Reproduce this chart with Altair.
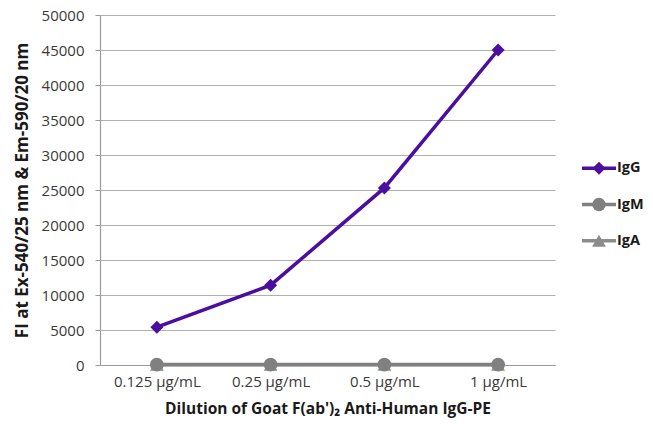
import altair as alt
import pandas as pd

dilutions = ["0.125 µg/mL", "0.25 µg/mL", "0.5 µg/mL", "1 µg/mL"]
series = ["IgG", "IgM", "IgA"]
igg = [5400, 11400, 25300, 45000]
igm = [60, 60, 60, 60]
iga = [40, 40, 40, 40]
colors = ["#4b0fa0", "#808080", "#8c8c8c"]
shapes = ["diamond", "circle", "triangle-up"]
sizes = [170, 190, 190]

rows = []
for s, vals in zip(series, [igg, igm, iga]):
    for d, v in zip(dilutions, vals):
        rows.append({"series": s, "dilution": d, "value": v})
df = pd.DataFrame(rows)
leg_df = pd.DataFrame({"series": series})

FONT = "Open Sans"

x = alt.X("dilution:N", sort=dilutions, title="Dilution of Goat F(ab')₂ Anti-Human IgG-PE",
          scale=alt.Scale(paddingInner=0, paddingOuter=0),
          axis=alt.Axis(labelAngle=0, bandPosition=0, ticks=True, tickSize=5, grid=False,
                        labelPadding=4, titlePadding=12, titleFontSize=15.5))
y = alt.Y("value:Q", title="FI at Ex-540/25 nm & Em-590/20 nm",
          scale=alt.Scale(domain=[0, 50000], nice=False),
          axis=alt.Axis(values=list(range(0, 50001, 5000)), format="d", tickSize=5,
                        labelPadding=11, titlePadding=10, titleFontSize=17))
color_scale = alt.Scale(domain=series, range=colors)
color = alt.Color("series:N", scale=color_scale, legend=None)

line_layers = []
pt_layers = []
for s in reversed(series):
    sub = alt.Chart(df).transform_filter(alt.datum.series == s)
    line_layers.append(sub.mark_line(strokeWidth=3.5).encode(x=x, y=y, color=color))
for s in reversed(series):
    sub = alt.Chart(df).transform_filter(alt.datum.series == s)
    i = series.index(s)
    pt_layers.append(sub.mark_point(filled=True, opacity=1, size=sizes[i], shape=shapes[i]).encode(
        x=x, y=y, color=color))

main = alt.layer(*line_layers, *pt_layers)

# manual legend (line + marker + label), placed right of the plot area
ly = alt.Y("series:N", sort=series, scale=alt.Scale(domain=series, range=[135, 244]),
           axis=None)
lbase = alt.Chart(leg_df)
leg_rule = lbase.mark_rule(strokeWidth=3.5).encode(
    x=alt.value(482), x2=alt.value(516), y=ly, color=color)
leg_pt = lbase.mark_point(filled=True, opacity=1).encode(
    x=alt.value(499), y=ly, color=color,
    shape=alt.Shape("series:N", scale=alt.Scale(domain=series, range=shapes), legend=None),
    size=alt.Size("series:N", scale=alt.Scale(domain=series, range=sizes), legend=None))
leg_txt = lbase.mark_text(align="left", baseline="middle", font=FONT, fontSize=14.5,
                          fontWeight="bold", color="#1a1a1a").encode(
    x=alt.value(517), y=ly, text="series:N")
legend = alt.layer(leg_rule, leg_pt, leg_txt)

chart = alt.layer(main, legend).resolve_scale(y="independent").properties(
    width=455, height=350,
    autosize=alt.AutoSizeParams(type="none"),
    padding={"left": 92, "top": 7, "right": 90, "bottom": 55},
).configure_view(stroke=None).configure_axis(
    labelFont=FONT, labelFontSize=15, labelColor="#3a3a3a",
    titleFont=FONT, titleFontWeight="bold", titleColor="#1a1a1a",
    domainColor="#9a9a9a", domainWidth=1.2, tickColor="#9a9a9a",
    gridColor="#b0b0b0", gridWidth=1.2,
)

chart.save("out.html", embed_options={"renderer": "svg", "actions": False})
